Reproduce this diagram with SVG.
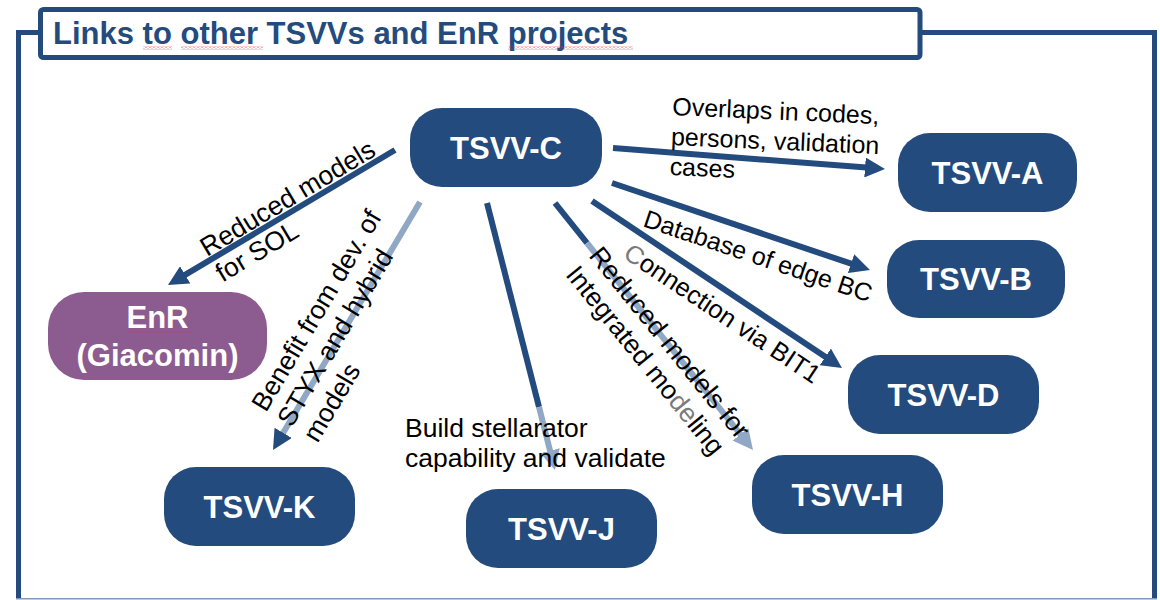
<svg xmlns="http://www.w3.org/2000/svg" width="1160" height="600" viewBox="0 0 1160 600">
  <style>
    .frame { fill: none; stroke: #234b7d; stroke-width: 5; }
    .node { fill: #234b7d; }
    .enr { fill: #8c5b8f; }
    .ntext { font-family: "Liberation Sans", Arial, sans-serif; font-weight: bold; font-size: 31px; fill: #ffffff; text-anchor: middle; }
    .title { font-family: "Liberation Sans", Arial, sans-serif; font-weight: bold; font-size: 31px; fill: #234b7d; }
    .lbl { font-family: "Liberation Sans", Arial, sans-serif; font-size: 26.5px; fill: #000000; }
    .dim { fill: #7a7a7a; }
    .dark { fill: none; stroke: #234b7d; stroke-width: 6; }
    .light { fill: none; stroke: #91a8c5; stroke-width: 6; }
  </style>
  <defs>
    <marker id="headDark" markerUnits="userSpaceOnUse" markerWidth="20" markerHeight="20" viewBox="0 0 20 20" refX="8" refY="10" orient="auto">
      <path d="M0,0 L20,10 L0,20 z" fill="#234b7d"/>
    </marker>
    <marker id="headLight" markerUnits="userSpaceOnUse" markerWidth="20" markerHeight="20" viewBox="0 0 20 20" refX="8" refY="10" orient="auto">
      <path d="M0,0 L20,10 L0,20 z" fill="#91a8c5"/>
    </marker>
    <pattern id="squig" width="4" height="3" patternUnits="userSpaceOnUse">
      <path d="M0,0.5 L2,2.5 L4,0.5" fill="none" stroke="#e8383d" stroke-width="0.9"/>
    </pattern>
  </defs>

  <rect width="1160" height="600" fill="#ffffff"/>

  <!-- outer frame -->
  <g id="frame">
    <path class="frame" d="M42,32.5 H18.5 V598"/>
    <path class="frame" d="M918,32.5 H1154.5 V598"/>
    <line x1="16" y1="598.7" x2="1157" y2="598.7" stroke="#7f98b9" stroke-width="1.6"/>
  </g>

  <!-- title box -->
  <g id="title">
    <rect x="40.5" y="9.5" width="879.5" height="48" rx="3" fill="#ffffff" stroke="#234b7d" stroke-width="5"/>
    <text class="title" x="53" y="43.5">Links to other TSVVs and EnR projects</text>
    <rect x="143" y="46.5" width="29" height="3" fill="url(#squig)"/>
    <rect x="181" y="46.5" width="82" height="3" fill="url(#squig)"/>
    <rect x="508" y="46.5" width="125" height="3" fill="url(#squig)"/>
  </g>

  <!-- connectors -->
  <g id="connectors">
    <!-- C to EnR -->
    <line class="dark" x1="395" y1="150" x2="178.3" y2="278.9" marker-end="url(#headDark)"/>
    <!-- C to K -->
    <line class="light" x1="420" y1="202" x2="279.1" y2="439.7" marker-end="url(#headDark)"/>
    <!-- C to J -->
    <line class="dark" x1="487" y1="203" x2="539" y2="407"/>
    <line class="light" x1="539" y1="407" x2="552" y2="458.4" marker-end="url(#headLight)"/>
    <!-- C to H -->
    <line class="dark" x1="555" y1="203" x2="587" y2="243"/>
    <line class="light" x1="587" y1="243" x2="745.5" y2="440.6" marker-end="url(#headLight)"/>
    <!-- C to D -->
    <line class="dark" x1="592" y1="201" x2="832" y2="361.3" marker-end="url(#headDark)"/>
    <!-- C to B -->
    <line class="dark" x1="612" y1="183" x2="858.6" y2="266.2" marker-end="url(#headDark)"/>
    <!-- C to A -->
    <line class="dark" x1="613" y1="148" x2="873" y2="168.1" marker-end="url(#headDark)"/>
  </g>

  <!-- connector labels -->
  <g id="labels">
    <text class="lbl" style="font-size:25px" transform="translate(672,115) rotate(2.5)">
      <tspan x="0" y="0">Overlaps in codes,</tspan>
      <tspan x="0" y="30">persons, validation</tspan>
      <tspan x="0" y="60">cases</tspan>
    </text>
    <text class="lbl" style="font-size:25px" transform="translate(642,226) rotate(18.6)">Database of edge BC</text>
    <text class="lbl" style="font-size:25.5px" transform="translate(622,257) rotate(33.7)"><tspan class="dim">C</tspan>onnection via BIT1</text>
    <text class="lbl" transform="translate(588,256) rotate(51)">
      <tspan x="0" y="0">Reduced models for</tspan>
      <tspan x="0" y="30">Integrated mo<tspan class="dim">de</tspan>ling</tspan>
    </text>
    <text class="lbl" transform="translate(207,257) rotate(-31)">
      <tspan x="0" y="0">Reduced models</tspan>
      <tspan x="0" y="30">for SOL</tspan>
    </text>
    <text class="lbl" transform="translate(266,413) rotate(-59.3)">
      <tspan x="0" y="0">Benefit from dev. of</tspan>
      <tspan x="0" y="30">STYX and hybrid</tspan>
      <tspan x="0" y="60">models</tspan>
    </text>
    <text class="lbl" x="405" y="437">
      <tspan x="405" y="437">Build stellarator</tspan>
      <tspan x="405" y="467">capability and validate</tspan>
    </text>
  </g>

  <!-- nodes -->
  <g id="node-tsvv-c">
    <rect class="node" x="410" y="108" width="192" height="79" rx="32"/>
    <text class="ntext" x="506" y="158.6">TSVV-C</text>
  </g>
  <g id="node-tsvv-a">
    <rect class="node" x="898" y="133" width="179" height="79" rx="32"/>
    <text class="ntext" x="987.5" y="183.6">TSVV-A</text>
  </g>
  <g id="node-tsvv-b">
    <rect class="node" x="887" y="240" width="178" height="78" rx="32"/>
    <text class="ntext" x="976" y="290">TSVV-B</text>
  </g>
  <g id="node-tsvv-d">
    <rect class="node" x="848" y="355" width="191" height="79" rx="32"/>
    <text class="ntext" x="943.5" y="405.6">TSVV-D</text>
  </g>
  <g id="node-tsvv-h">
    <rect class="node" x="752" y="455" width="191" height="79" rx="32"/>
    <text class="ntext" x="847.5" y="505.6">TSVV-H</text>
  </g>
  <g id="node-tsvv-j">
    <rect class="node" x="466" y="489" width="191" height="79" rx="32"/>
    <text class="ntext" x="561.5" y="539.6">TSVV-J</text>
  </g>
  <g id="node-tsvv-k">
    <rect class="node" x="164" y="467" width="191" height="79" rx="32"/>
    <text class="ntext" x="259.5" y="517.6">TSVV-K</text>
  </g>
  <g id="node-enr">
    <rect class="enr" x="48" y="292" width="219" height="88" rx="36"/>
    <text class="ntext" x="157.5" y="328">EnR</text>
    <text class="ntext" x="157.5" y="366">(Giacomin)</text>
    <rect x="127" y="331" width="65" height="3" fill="url(#squig)"/>
  </g>
</svg>
